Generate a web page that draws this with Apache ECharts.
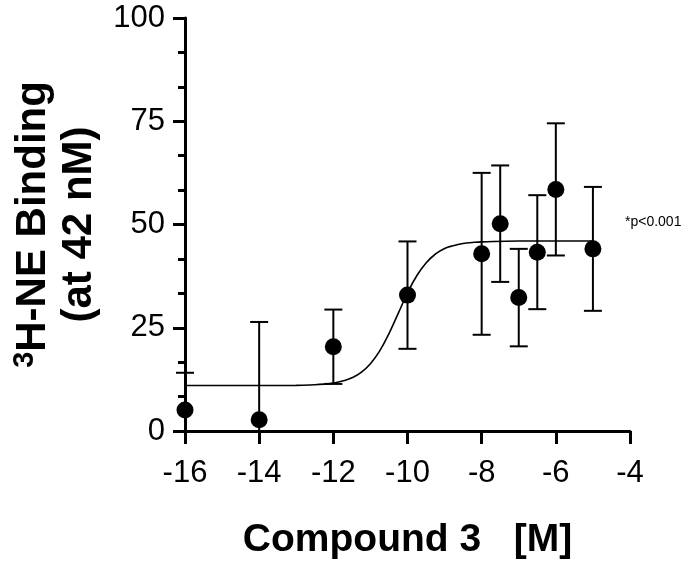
<!DOCTYPE html>
<html>
<head>
<meta charset="utf-8">
<script src="https://cdn.jsdelivr.net/npm/echarts@6/dist/echarts.min.js"></script>
<style>html,body{margin:0;padding:0;background:#fff;}#c{width:688px;height:565px;}</style>
</head>
<body>
<div id="c"></div>
<script>
// Log concentration of Compound 3 [M]
var concLog = [-16, -14, -12, -10, -8, -7.5, -7, -6.5, -6, -5];
// Mean 3H-NE binding
var binding = [5.1, 2.7, 20.4, 32.9, 42.9, 50.2, 32.3, 43.3, 58.5, 44.1];
// Error (half error-bar length)
var errBar = [9.0, 23.7, 9.0, 13.0, 19.6, 14.1, 11.8, 13.8, 16.0, 15.0];
// Fitted curve
var fitX = [-16, -14, -13, -12.5, -12.25, -12, -11.75, -11.5, -11.25, -11, -10.75, -10.5, -10.25, -10, -9.75, -9.5, -9.25, -9, -8.75, -8.5, -8.25, -8, -7, -6, -5];
var fitY = [11.0, 11.0, 11.05, 11.2, 11.35, 11.6, 12.1, 12.9, 14.2, 16.3, 19.4, 23.6, 28.5, 33.4, 37.6, 40.7, 42.8, 44.2, 44.9, 45.4, 45.65, 45.8, 46.0, 46.0, 46.0];
var xTicks = [-16, -14, -12, -10, -8, -6, -4];
var yTicks = [0, 25, 50, 75, 100];

var FONT = '"Liberation Sans", Arial, sans-serif';
var chart = echarts.init(document.getElementById('c'), null, {renderer: 'canvas'});

var errData = concLog.map(function (x, i) { return [x, binding[i] - errBar[i], binding[i] + errBar[i]]; });
var fitData = fitX.map(function (x, i) { return [x, fitY[i]]; });
var ptData = concLog.map(function (x, i) { return [x, binding[i]]; });

chart.setOption({
  animation: false,
  backgroundColor: '#fff',
  grid: {left: 185, right: 58, top: 18, bottom: 133, containLabel: false},
  xAxis: {
    type: 'value', min: xTicks[0], max: xTicks[xTicks.length - 1], interval: 2,
    name: 'Compound 3   [M]', nameLocation: 'middle', nameGap: 90,
    nameTextStyle: {fontSize: 39, fontWeight: 'bold', color: '#000', fontFamily: FONT},
    axisLine: {show: true, onZero: false, lineStyle: {color: '#000', width: 3}},
    axisTick: {show: true, length: 13, lineStyle: {color: '#000', width: 3}},
    axisLabel: {fontSize: 31, color: '#000', fontFamily: FONT, margin: 27},
    splitLine: {show: false}
  },
  yAxis: {
    type: 'value', min: yTicks[0], max: yTicks[yTicks.length - 1], interval: 25,
    name: '{sup|3}{b|H-NE Binding}\n{b|(at 42 nM)}', nameLocation: 'middle', nameGap: 82, nameRotate: 90,
    nameTextStyle: {
      color: '#000', fontFamily: FONT, fontWeight: 'bold', fontSize: 42, lineHeight: 46, align: 'center',
      rich: {
        b: {fontSize: 42, fontWeight: 'bold', lineHeight: 46, fontFamily: FONT, color: '#000'},
        sup: {fontSize: 29, fontWeight: 'bold', lineHeight: 29, verticalAlign: 'top', fontFamily: FONT, color: '#000'}
      }
    },
    axisLine: {show: true, lineStyle: {color: '#000', width: 3}},
    axisTick: {show: true, length: 12, lineStyle: {color: '#000', width: 3}},
    minorTick: {show: true, splitNumber: 3, length: 7, lineStyle: {color: '#000', width: 3}},
    axisLabel: {fontSize: 31, color: '#000', fontFamily: FONT, margin: 20},
    splitLine: {show: false}
  },
  graphic: [{
    type: 'text', left: 625, top: 215,
    style: {text: '*p<0.001', font: '14px ' + FONT, fill: '#000'}
  }],
  series: [
    {
      type: 'line', data: fitData, smooth: true, symbol: 'none', z: 2,
      lineStyle: {color: '#000', width: 1.6}
    },
    {
      type: 'custom', data: errData, z: 3, clip: false,
      renderItem: function (params, api) {
        var x = api.value(0);
        var lo = api.value(1), hi = api.value(2);
        var loClamped = lo < 0;
        var top = api.coord([x, hi]);
        var bot = api.coord([x, Math.max(lo, 0)]);
        var hw = 9;
        var children = [
          {type: 'line', shape: {x1: top[0], y1: top[1], x2: bot[0], y2: bot[1]}, style: {stroke: '#000', lineWidth: 2}},
          {type: 'line', shape: {x1: top[0] - hw, y1: top[1], x2: top[0] + hw, y2: top[1]}, style: {stroke: '#000', lineWidth: 2}}
        ];
        if (!loClamped) {
          children.push({type: 'line', shape: {x1: bot[0] - hw, y1: bot[1], x2: bot[0] + hw, y2: bot[1]}, style: {stroke: '#000', lineWidth: 2}});
        }
        return {type: 'group', children: children};
      }
    },
    {
      type: 'scatter', data: ptData, symbol: 'circle', symbolSize: 17, z: 4,
      itemStyle: {color: '#000', opacity: 1}
    }
  ]
});
</script>
</body>
</html>
